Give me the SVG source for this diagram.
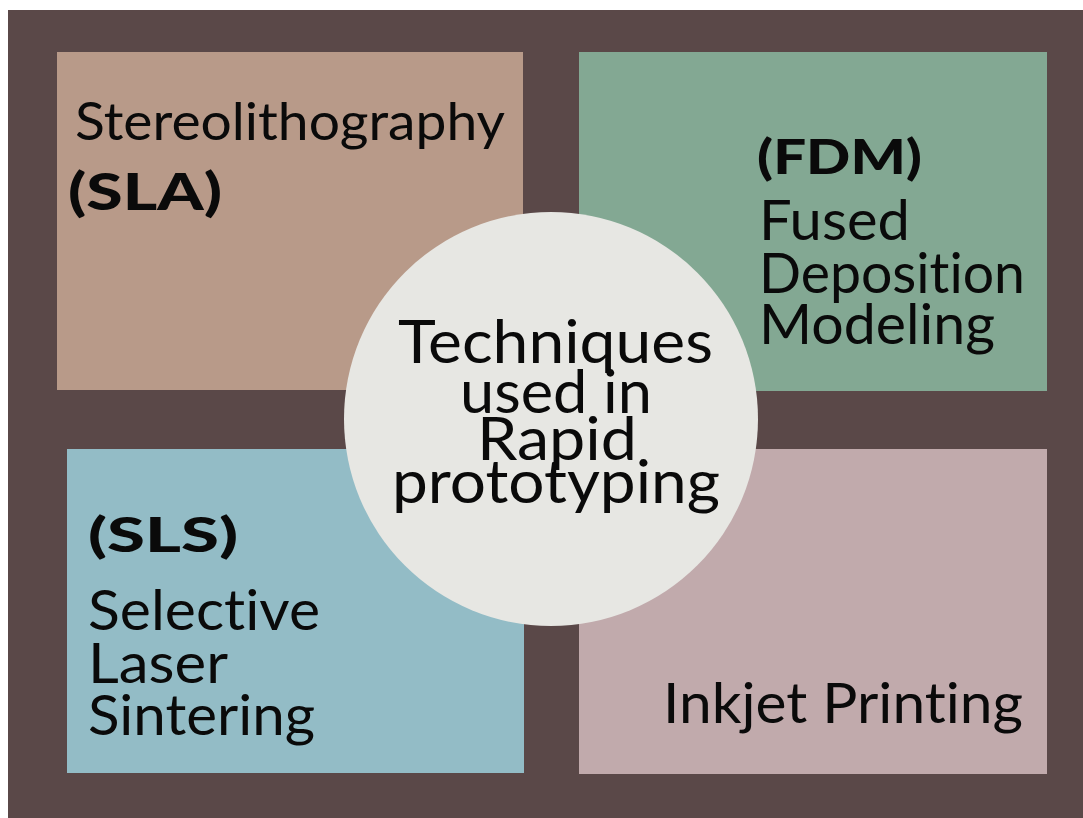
<svg xmlns="http://www.w3.org/2000/svg" width="1083" height="818" viewBox="0 0 1083 818">
<style>
.t{font-family:Lato,"Noto Sans","Liberation Sans",sans-serif;fill:#0a0a0a;font-variant-ligatures:none;}
.b{font-family:Lato,"Noto Sans","Liberation Sans",sans-serif;font-weight:900;fill:#0a0a0a;font-variant-ligatures:none;}
</style>
<rect x="0" y="0" width="1083" height="818" fill="#ffffff"/>
<rect x="8" y="10" width="1075" height="808" fill="#5a4848"/>
<g id="sla">
<rect x="57" y="52" width="466" height="338" fill="#b89a89"/>
<text class="t" x="75" y="140" font-size="53" textLength="430" lengthAdjust="spacingAndGlyphs">Stereolithography</text>
<text class="b" x="68" y="210" font-size="52" textLength="154" lengthAdjust="spacingAndGlyphs">(SLA)</text>
</g>
<g id="fdm">
<rect x="579" y="52" width="468" height="339" fill="#83a893"/>
<text class="b" x="757" y="174" font-size="48" textLength="165" lengthAdjust="spacingAndGlyphs">(FDM)</text>
<text class="t" x="759" y="240" font-size="56" textLength="151" lengthAdjust="spacingAndGlyphs">Fused</text>
<text class="t" x="759" y="293" font-size="56" textLength="266" lengthAdjust="spacingAndGlyphs">Deposition</text>
<text class="t" x="759" y="344" font-size="56" textLength="236" lengthAdjust="spacingAndGlyphs">Modeling</text>
</g>
<g id="sls">
<rect x="67" y="449" width="457" height="324" fill="#93bcc6"/>
<text class="b" x="88" y="552" font-size="48" textLength="150" lengthAdjust="spacingAndGlyphs">(SLS)</text>
<text class="t" x="88" y="630" font-size="56" textLength="232" lengthAdjust="spacingAndGlyphs">Selective</text>
<text class="t" x="88" y="683" font-size="56" textLength="140" lengthAdjust="spacingAndGlyphs">Laser</text>
<text class="t" x="88" y="735" font-size="56" textLength="227" lengthAdjust="spacingAndGlyphs">Sintering</text>
</g>
<g id="inkjet">
<rect x="579" y="449" width="468" height="325" fill="#c1aaac"/>
<text class="t" x="663" y="723" font-size="57" textLength="360" lengthAdjust="spacingAndGlyphs">Inkjet Printing</text>
</g>
<g id="center">
<circle cx="551" cy="419" r="207" fill="#e7e7e3"/>
<text class="t" x="398" y="363" font-size="60" textLength="315" lengthAdjust="spacingAndGlyphs">Techniques</text>
<text class="t" x="460" y="413" font-size="60" textLength="192" lengthAdjust="spacingAndGlyphs">used in</text>
<text class="t" x="477" y="460" font-size="60" textLength="160" lengthAdjust="spacingAndGlyphs">Rapid</text>
<text class="t" x="392" y="503" font-size="60" textLength="328" lengthAdjust="spacingAndGlyphs">prototyping</text>
</g>
<g id="connectors"/>
</svg>
